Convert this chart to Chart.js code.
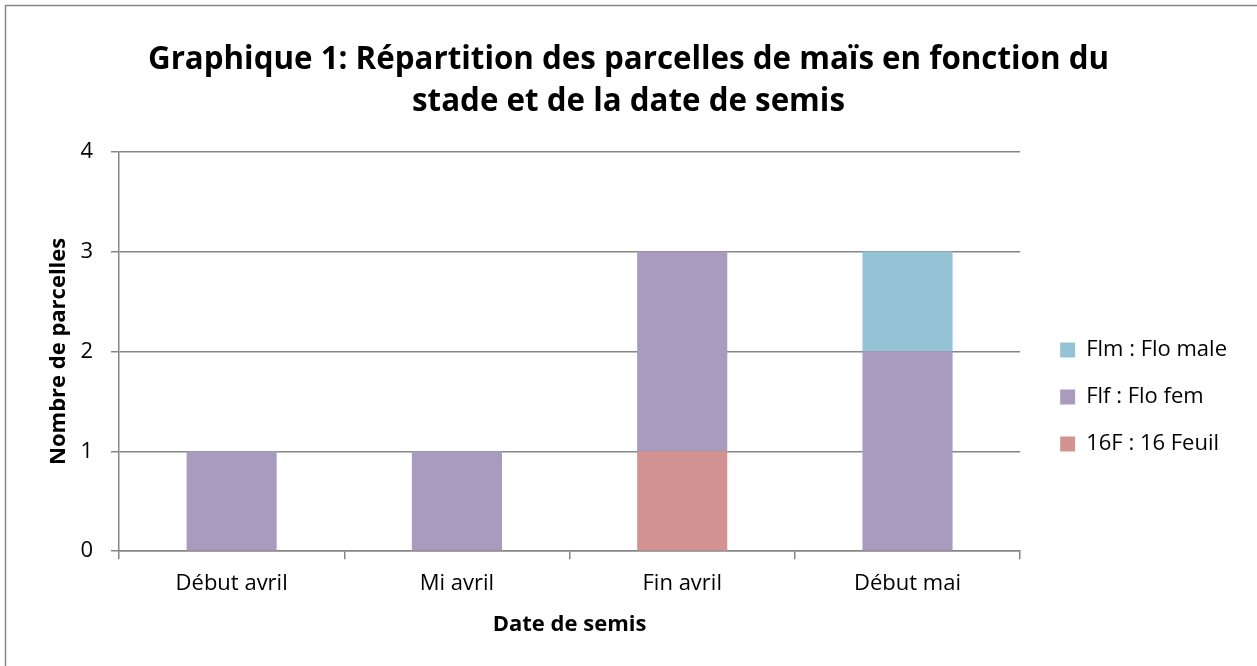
<!DOCTYPE html>
<html lang="fr">
<head>
  <meta charset="UTF-8">
  <title>Graphique 1</title>
  <script src="https://cdn.jsdelivr.net/npm/chart.js"></script>
  <style>
    body { margin: 0; background: #fff; }
    .chart-container { width: 1257px; height: 666px; }
  </style>
</head>
<body>
  <div class="chart-container"><canvas id="chart"></canvas></div>

  <script>
    const categories = ['Début avril', 'Mi avril', 'Fin avril', 'Début mai'];
    const feuil16 = [0, 0, 1, 0];
    const floFem = [1, 1, 2, 2];
    const floMale = [0, 0, 0, 1];
    const yTicks = [0, 1, 2, 3, 4];

    const FONT = '"Open Sans", sans-serif';
    const GRID = '#868686';

    // grey frame round the chart (top and left edges are visible in the reference)
    const framePlugin = {
      id: 'frame',
      beforeDraw(chart) {
        const ctx = chart.ctx;
        ctx.save();
        ctx.fillStyle = '#fff';
        ctx.fillRect(0, 0, chart.width, chart.height);
        ctx.strokeStyle = GRID;
        ctx.lineWidth = 1.5;
        ctx.strokeRect(5.5, 5.5, chart.width + 20, chart.height + 20);
        ctx.restore();
      }
    };

    new Chart(document.getElementById('chart').getContext('2d'), {
      type: 'bar',
      data: {
        labels: categories,
        datasets: [
          { label: '16F : 16 Feuil', data: feuil16, backgroundColor: '#D39392' },
          { label: 'Flf : Flo fem', data: floFem, backgroundColor: '#A99BBE' },
          { label: 'Flm : Flo male', data: floMale, backgroundColor: '#93C3D4' }
        ]
      },
      options: {
        responsive: true,
        maintainAspectRatio: false,
        animation: false,
        datasets: { bar: { barPercentage: 0.4, categoryPercentage: 1 } },
        layout: { padding: { top: 39, left: 20, right: 20, bottom: 24 } },
        plugins: {
          title: {
            display: true,
            text: ['Graphique 1: Répartition des parcelles de maïs en fonction du',
                   'stade et de la date de semis'],
            color: '#000',
            font: { family: FONT, size: 31.3, weight: 'bold', lineHeight: 1.35 },
            padding: { top: 0, bottom: 28 }
          },
          legend: {
            position: 'right',
            reverse: true,
            // empty title only pushes the items down to where the reference has them
            title: { display: true, text: '', font: { size: 1, lineHeight: 1 }, padding: { top: 0, bottom: 112 } },
            labels: {
              color: '#000',
              font: { family: FONT, size: 22 },
              boxWidth: 15,
              boxHeight: 15,
              padding: 25
            }
          },
          tooltip: { enabled: false }
        },
        scales: {
          x: {
            stacked: true,
            offset: true,
            border: { color: GRID, width: 1.5 },
            grid: { offset: true, drawOnChartArea: false, color: GRID, tickLength: 8, lineWidth: 1.5 },
            ticks: { color: '#000', font: { family: FONT, size: 22 }, padding: 11 },
            title: {
              display: true,
              text: 'Date de semis',
              color: '#000',
              font: { family: FONT, size: 22, weight: 'bold' },
              padding: { top: 4 }
            }
          },
          y: {
            stacked: true,
            min: 0,
            max: 4,
            afterBuildTicks(scale) { scale.ticks = yTicks.map(v => ({ value: v })); },
            afterFit(scale) { scale.width = 99; },
            border: { color: GRID, width: 1.5 },
            grid: { color: GRID, tickLength: 8, lineWidth: 1.5 },
            ticks: { color: '#000', font: { family: FONT, size: 22 }, padding: 18 },
            title: {
              display: true,
              text: 'Nombre de parcelles',
              color: '#000',
              font: { family: FONT, size: 22, weight: 'bold' },
              padding: { top: 26, bottom: 0 }
            }
          },
          // blank spacer between the plot and the legend
          gap: {
            position: 'right',
            display: true,
            grid: { display: false, drawTicks: false },
            border: { display: false },
            ticks: { display: false },
            afterFit(scale) { scale.width = 15; }
          }
        }
      },
      plugins: [framePlugin]
    });
  </script>
</body>
</html>
